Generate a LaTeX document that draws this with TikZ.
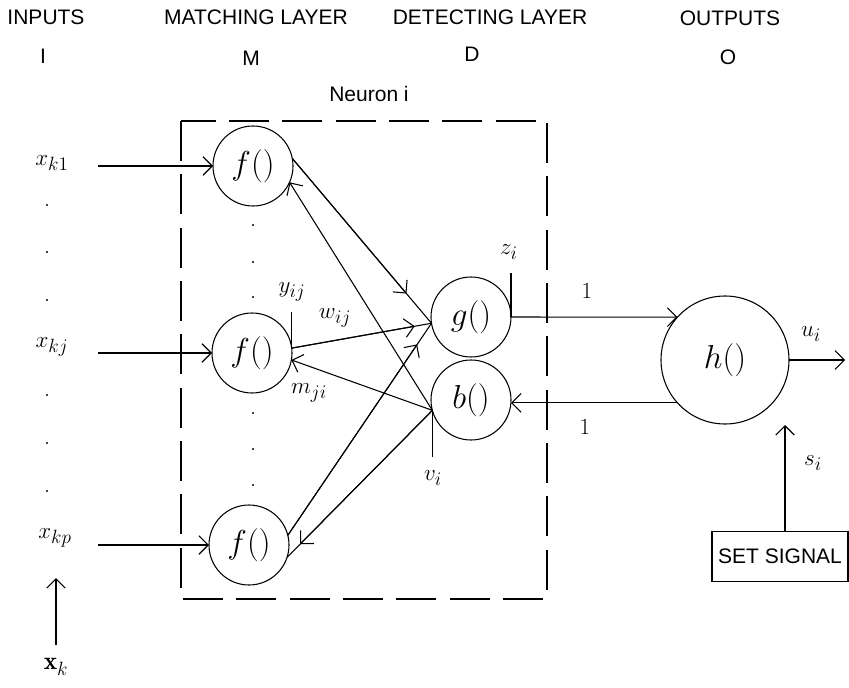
\documentclass[tikz,border=0pt]{standalone}
\usepackage{fontspec}
\newfontfamily\guifont{Liberation Sans}
\usepackage{amsmath}
\usetikzlibrary{arrows.meta, positioning, calc}

\begin{document}
\begin{tikzpicture}[
  x=0.75pt, y=-0.75pt, line width=0.8pt,
  arr/.style={-{Straight Barb[length=7pt, width=14pt]}},
  unit/.style={draw, circle, inner sep=0pt, outer sep=0pt, minimum size=60pt, font=\fontsize{24}{26}\selectfont},
  head/.style={inner sep=0pt, font=\guifont\fontsize{15.75}{18}\selectfont},
  lbl/.style={inner sep=0pt, font=\fontsize{19}{21}\selectfont},
  sigbox/.style={draw, inner sep=0pt, minimum width=102pt, minimum height=38pt, font=\guifont\fontsize{15.75}{18}\selectfont}
]
  \useasboundingbox (0,0) rectangle (849,688);

  \node[head] (inputs) at (46,17) {INPUTS};
  \node[head] (matching) at (256,17) {MATCHING LAYER};
  \node[head] (detecting) at (490,17) {DETECTING LAYER};
  \node[head] (outputs) at (730,18) {OUTPUTS};
  \node[head] (layI) at (43,56) {I};
  \node[head] (layM) at (251,58) {M};
  \node[head] (layD) at (472,54) {D};
  \node[head] (layO) at (728,57) {O};
  \node[head] (neuron) at (369,94) {Neuron i};

  \draw[line width=1.1pt, dash pattern=on 30pt off 10pt] (181,121) rectangle (547,599);

  \node[unit] (f1) at (253,166) {$f()$};
  \node[unit] (f2) at (252,353) {$f()$};
  \node[unit] (f3) at (249,545) {$f()$};
  \node[unit] (g) at (471,317) {$g()$};
  \node[unit] (b) at (471,400) {$b()$};
  \node[unit, minimum size=96pt] (h) at (725,360) {$h()$};

  \node[lbl] (xk1) at (52,163) {$x_{k1}$};
  \node[lbl] (xkj) at (52,347) {$x_{kj}$};
  \node[lbl] (xkp) at (55,538) {$x_{kp}$};
  \node[lbl] (xk) at (56,667) {$\mathbf{x}_k$};
  \coordinate (in1) at (98,166);
  \coordinate (in2) at (98,353);
  \coordinate (in3) at (98,545);
  \coordinate (xtop) at (56,578);
  \draw[arr] (in1) -- (f1.west);
  \draw[arr] (in2) -- (f2.west);
  \draw[arr] (in3) -- (f3.west);
  \draw[arr, shorten <=10pt] (xk.north) -- (xtop);

  \foreach \y in {205,252,300,395,443,491}
    \fill (47,\y) circle (1.1);
  \foreach \y in {225,262,297,413,449,485}
    \fill (253,\y) circle (1.1);

  \draw (f1.11) -- (g.189);
  \draw (f2.7) -- (g.189);
  \draw (f3.14) -- (g.189);
  \draw[arr] (f1.11) -- ($(f1.11)!0.82!(g.189)$);
  \draw[arr] (f2.7) -- ($(f2.7)!0.88!(g.189)$);
  \draw[arr] (f3.14) -- ($(f3.14)!0.9!(g.189)$);
  \draw[arr] (b.195) -- (f1.-24);
  \draw[arr] (b.195) -- (f2.-10);
  \draw (b.195) -- (f3.-18);
  \draw[arr] (b.195) -- ($(b.195)!0.91!(f3.-18)$);

  \coordinate (ytop) at (292,312);
  \coordinate (ztop) at (511,273);
  \coordinate (vbot) at (432,457);
  \draw (f2.7) -- (f2.7 |- ytop);
  \draw (g.east) -- (ztop);
  \draw (b.195) -- (b.195 |- vbot);
  \node[lbl] (yij) at (292,292) {$y_{ij}$};
  \node[lbl] (wij) at (335,318) {$w_{ij}$};
  \node[lbl] (mji) at (309,393) {$m_{ji}$};
  \node[lbl] (zi) at (509,252) {$z_i$};
  \node[lbl] (vi) at (433,478) {$v_i$};

  \draw[arr] (g.east) -- (h.138);
  \draw[arr] (h.222) -- (h.222 -| b.east);
  \node[lbl] (one1) at (587,291) {$1$};
  \node[lbl] (one2) at (585,427) {$1$};

  \coordinate (uout) at (845,360);
  \draw[arr] (h.east) -- (uout);
  \node[lbl] (ui) at (811,334) {$u_i$};

  \node[sigbox] (sig) at (780,556.5) {SET SIGNAL};
  \coordinate (stip) at (785,425);
  \draw[arr] (sig.north -| stip) -- (stip);
  \node[lbl] (si) at (813,463) {$s_i$};
\end{tikzpicture}
\end{document}
